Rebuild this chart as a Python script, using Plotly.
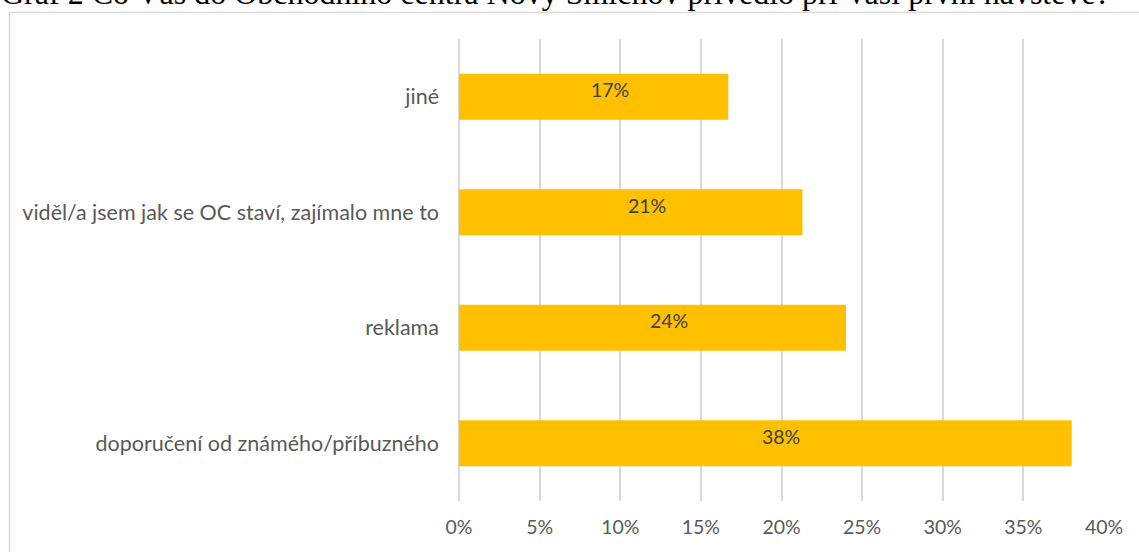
import plotly.graph_objects as go

# Survey answers (bottom to top as drawn on the category axis)
categories = [
    "doporučení od známého/příbuzného",
    "reklama",
    "viděl/a jsem jak se OC staví, zajímalo mne to",
    "jiné",
]
shares = [0.38, 0.24, 0.213, 0.167]

x_ticks = [0, 0.05, 0.10, 0.15, 0.20, 0.25, 0.30, 0.35, 0.40]
x_tick_labels = ["0%", "5%", "10%", "15%", "20%", "25%", "30%", "35%", "40%"]

title_text = "Graf 2 Co Vás do Obchodního centra Nový Smíchov přivedlo při Vaší první návštěvě?"

W, H = 1139, 552
L, R, T, B = 459, 35, 39, 51
plot_w = W - L - R
plot_h = H - T - B

def px_x(px):
    return (px - L) / plot_w

def px_y(py):
    return (H - B - py) / plot_h

font_family = "Lato, 'Open Sans', sans-serif"
grey_text = "#595959"
grid_col = "#d9d9d9"

fig = go.Figure(
    go.Bar(
        x=shares,
        y=categories,
        orientation="h",
        width=0.4,
        marker=dict(color="#FFC000", line=dict(width=0)),
        hoverinfo="skip",
    )
)

# value labels placed in the middle of each bar, nudged up and right
value_labels = [
    dict(
        x=v / 2,
        y=c,
        xref="x",
        yref="y",
        text=f"{v:.0%}",
        showarrow=False,
        xshift=16,
        yshift=7,
        font=dict(family=font_family, size=19.5, color="#404040"),
    )
    for c, v in zip(categories, shares)
]

title_annotation = dict(
    text=title_text,
    xref="paper",
    yref="paper",
    x=px_x(-1),
    y=px_y(13),
    xanchor="left",
    yanchor="bottom",
    showarrow=False,
    font=dict(family="Liberation Serif, 'Times New Roman', serif", size=32, color="black"),
)

fig.update_layout(
    width=W,
    height=H,
    margin=dict(l=L, r=R, t=T, b=B, pad=0),
    paper_bgcolor="white",
    plot_bgcolor="white",
    showlegend=False,
    bargap=0.6,
    xaxis=dict(
        range=[0, 0.40],
        tickvals=x_ticks,
        ticktext=x_tick_labels,
        showgrid=True,
        gridcolor=grid_col,
        gridwidth=1.5,
        zeroline=True,
        zerolinecolor=grid_col,
        zerolinewidth=1.5,
        showline=False,
        ticks="",
        ticklabelstandoff=12,
        tickfont=dict(family=font_family, size=19.5, color=grey_text),
        fixedrange=True,
    ),
    yaxis=dict(
        categoryorder="array",
        categoryarray=categories,
        range=[-0.5, 3.5],
        showgrid=False,
        zeroline=False,
        showline=False,
        ticks="",
        ticklabelstandoff=19,
        tickfont=dict(family=font_family, size=21.5, color=grey_text),
        fixedrange=True,
    ),
    shapes=[
        # chart-area frame (right and bottom edges run past the page)
        dict(
            type="rect",
            xref="paper",
            yref="paper",
            x0=px_x(9.5),
            x1=px_x(W + 20),
            y0=px_y(H + 20),
            y1=px_y(12.5),
            line=dict(color=grid_col, width=1.5),
            fillcolor="rgba(0,0,0,0)",
            layer="below",
        )
    ],
    annotations=value_labels + [title_annotation],
)

fig.write_html("out.html")
